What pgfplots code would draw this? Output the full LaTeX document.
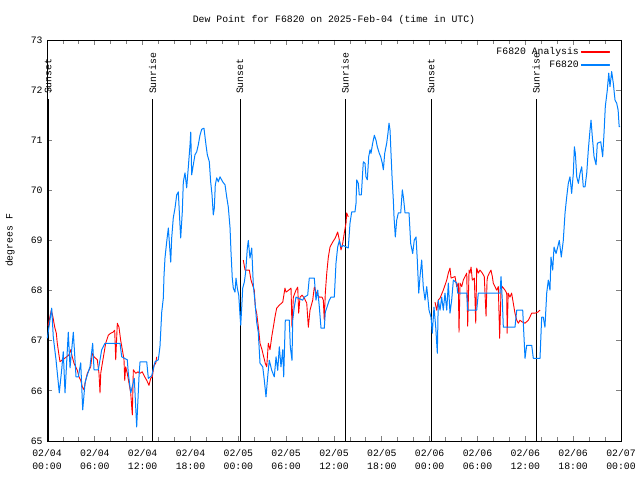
\documentclass[border=0pt]{standalone}
\usepackage{pgfplots}
\pgfplotsset{compat=1.18}
\usepackage{pgfplotstable}
\usepackage{fontspec}
\setmainfont{Liberation Mono}
\setmonofont{Liberation Mono}
\definecolor{obsblue}{RGB}{0,128,255}
\definecolor{anared}{RGB}{255,0,0}

\pgfplotstableread{
h v
0.04 67.05
0.59 67.65
0.79 67.07
1.13 66.62
1.54 65.96
1.84 66.42
2.04 66.78
2.26 65.96
2.67 67.17
2.89 66.46
3.30 67.17
3.64 66.28
3.93 66.28
4.23 66.56
4.48 65.62
4.77 66.16
4.98 66.28
5.39 66.48
5.73 66.95
5.90 66.42
6.44 66.42
6.86 66.82
7.28 66.95
9.16 66.95
9.37 66.68
10.07 66.62
10.20 66.35
10.50 65.96
10.95 66.25
11.25 65.28
11.54 66.28
11.67 66.58
12.51 66.58
12.71 66.25
13.13 66.30
13.55 66.58
13.96 66.62
14.17 66.88
14.39 67.57
14.59 67.85
14.68 68.31
14.80 68.65
15.01 68.97
15.22 69.25
15.52 68.57
15.64 69.05
15.84 69.45
16.06 69.65
16.27 69.91
16.47 69.97
16.68 69.31
16.77 69.05
16.97 69.57
17.10 70.17
17.31 70.35
17.52 70.05
17.72 70.45
17.94 70.91
18.03 71.16
18.15 70.31
18.35 70.51
18.56 70.71
18.78 70.77
18.98 70.91
19.19 71.10
19.41 71.22
19.69 71.24
19.94 70.91
20.11 70.71
20.36 70.57
20.53 70.17
20.70 69.91
20.86 69.51
20.99 69.65
21.11 70.11
21.29 70.25
21.49 70.17
21.70 70.27
22.04 70.17
22.33 70.11
22.54 69.87
22.74 69.67
22.96 69.25
23.08 68.77
23.24 68.25
23.37 68.05
23.58 67.97
23.71 68.25
23.87 68.05
24.05 67.91
24.21 67.51
24.30 67.31
24.42 67.65
24.55 68.05
24.75 68.17
24.92 68.37
25.13 68.85
25.25 69.00
25.46 68.65
25.68 68.85
25.88 68.11
26.09 67.77
26.30 67.37
26.50 67.17
26.72 66.55
27.06 66.48
27.26 66.21
27.47 65.88
27.68 66.28
27.88 66.61
28.19 66.41
28.51 66.28
28.73 66.68
28.94 66.41
29.14 66.88
29.35 66.48
29.57 66.82
29.69 66.28
29.89 67.41
30.39 67.41
30.52 66.88
30.73 66.61
30.82 67.41
31.02 67.67
31.23 67.87
32.07 67.81
32.28 67.87
32.70 67.91
32.90 68.25
33.53 68.25
33.74 67.81
33.96 68.01
34.16 67.67
34.37 67.25
34.78 67.25
34.91 67.57
35.41 67.81
35.62 67.87
36.04 67.87
36.25 68.55
36.46 68.87
36.67 69.00
36.88 68.87
37.17 68.90
37.79 68.85
38.01 69.35
38.22 69.57
38.63 69.57
38.76 69.74
38.85 70.21
39.05 70.14
39.17 69.91
39.43 69.91
39.60 70.37
39.68 70.57
39.89 70.54
40.01 70.27
40.18 70.21
40.35 70.67
40.52 70.81
40.64 70.74
40.85 70.94
41.06 71.10
41.27 71.00
41.43 70.87
41.68 70.74
41.86 70.67
42.06 70.54
42.19 70.41
42.36 70.74
42.61 70.94
42.77 71.14
42.90 71.34
43.03 71.20
43.15 70.74
43.28 70.27
43.44 69.81
43.53 69.47
43.69 69.07
43.87 69.41
44.07 69.55
44.37 69.55
44.57 70.01
44.70 69.87
44.91 69.55
45.41 69.55
45.62 68.94
45.87 68.74
46.07 69.01
46.29 69.07
46.45 68.61
46.63 67.95
46.79 68.28
47.00 68.61
47.20 68.07
47.42 67.81
47.63 68.08
47.92 67.61
48.17 67.47
48.33 67.15
48.54 67.67
48.76 67.27
48.96 66.75
49.08 67.81
49.30 67.61
49.51 67.87
49.71 67.61
49.92 67.95
50.14 67.61
50.34 68.15
50.55 67.55
50.76 67.81
50.97 68.21
51.39 68.15
51.52 67.95
52.65 67.95
52.77 67.61
53.90 67.61
54.10 67.95
56.82 67.95
56.95 68.28
57.11 67.81
57.24 67.27
58.70 67.27
58.92 67.61
59.67 67.61
59.83 67.08
59.96 66.65
60.17 66.91
60.80 66.91
61.00 66.65
61.84 66.65
62.05 67.47
62.25 67.47
62.46 67.27
62.68 67.95
62.88 68.21
63.09 68.01
63.22 68.67
63.43 68.41
63.60 68.87
63.85 68.74
64.06 68.87
64.26 69.00
64.51 68.67
64.76 69.00
64.98 69.55
65.19 69.87
65.39 70.14
65.60 70.27
65.81 69.94
66.02 70.34
66.15 70.87
66.27 70.74
66.45 70.27
66.65 70.14
66.86 70.34
67.07 70.47
67.27 70.07
67.49 70.07
67.70 70.34
67.90 70.81
68.11 71.20
68.24 71.40
68.40 71.07
68.62 70.67
68.87 70.51
69.03 70.94
69.46 70.97
69.70 70.67
69.87 71.14
70.03 71.67
70.28 72.00
70.46 72.34
70.62 72.07
70.83 72.37
71.03 72.14
71.25 71.80
71.46 71.74
71.64 71.60
71.77 71.27
71.90 71.27
}\obsdata

\pgfplotstableread{
h v
0.13 67.30
0.54 67.61
0.75 67.47
0.97 67.27
1.17 67.15
1.29 66.95
1.47 66.75
1.63 66.58
1.92 66.62
2.22 66.65
2.47 66.68
2.76 66.72
2.97 66.82
3.17 66.68
3.39 66.55
3.60 66.48
3.80 66.41
4.01 66.28
4.23 66.21
4.43 66.08
4.64 66.02
4.85 66.21
5.06 66.35
5.48 66.48
5.68 66.75
5.90 66.68
6.31 66.62
6.52 66.35
6.65 65.96
6.74 66.35
6.94 66.55
7.15 66.75
7.36 66.95
7.69 67.11
7.99 67.15
8.28 67.17
8.49 67.21
8.62 66.62
8.82 67.35
9.03 67.27
9.24 67.01
9.45 66.82
9.66 66.62
9.75 66.21
9.87 66.48
10.07 66.35
10.29 66.15
10.50 65.96
10.70 65.52
10.83 66.42
11.13 66.35
11.41 66.38
11.67 66.35
11.95 66.38
12.26 66.28
12.51 66.21
12.79 66.11
13.01 66.25
13.21 66.28
13.42 66.51
13.64 66.55
13.76 66.68
}\anaA

\pgfplotstableread{
h v
24.62 68.61
24.84 68.41
25.38 68.41
25.59 68.21
26.00 68.01
26.13 67.67
26.30 67.55
26.56 67.21
26.72 66.95
26.97 66.82
27.18 66.68
27.38 66.55
27.56 66.48
27.76 66.95
27.97 66.82
28.19 67.08
28.39 67.27
28.60 67.48
28.81 67.65
29.14 67.71
29.57 67.77
29.85 68.05
29.98 67.97
30.32 68.01
30.61 68.05
30.73 67.27
30.90 67.87
31.23 68.01
31.45 68.07
31.57 67.55
31.74 67.87
31.99 67.91
32.28 67.85
32.58 67.75
32.78 67.27
32.99 67.61
33.33 67.81
33.53 68.07
33.74 67.97
33.96 67.91
34.16 67.87
34.50 67.87
34.66 67.81
34.78 67.41
34.91 67.95
35.09 68.35
35.29 68.67
35.50 68.87
35.84 68.97
36.16 69.05
36.46 69.17
36.67 69.01
36.88 68.81
37.09 68.94
37.29 69.15
37.51 69.35
37.59 69.55
37.79 69.47
}\anaB

\pgfplotstableread{
h v
48.67 67.77
48.88 67.61
49.08 67.81
49.30 67.85
49.71 68.01
50.14 68.21
50.34 68.35
50.55 68.45
50.68 68.25
51.18 68.28
51.39 68.08
51.59 68.15
51.68 67.17
51.81 68.15
52.02 68.08
52.22 68.21
52.43 68.28
52.65 68.35
52.77 67.29
52.94 68.41
53.06 68.35
53.19 68.47
53.35 68.21
53.60 68.25
53.78 67.35
53.90 68.45
54.10 68.35
54.31 68.41
54.60 68.35
54.85 68.28
55.07 67.49
55.20 68.21
55.28 68.28
55.48 68.35
55.69 68.41
55.86 68.28
55.98 68.15
56.19 68.08
56.40 68.01
56.61 68.08
56.78 67.05
56.95 68.01
57.11 68.08
57.45 68.01
57.66 67.95
57.72 67.15
57.85 67.95
58.07 67.87
58.28 67.95
58.49 67.75
58.70 67.55
58.92 67.41
59.12 67.35
59.33 67.41
59.54 67.38
59.96 67.35
60.17 67.38
60.38 67.41
60.59 67.48
60.80 67.55
61.21 67.55
61.55 67.57
61.84 67.61
}\anaC

\begin{document}
\fontsize{9.8bp}{12bp}\selectfont
\begin{tikzpicture}[x=1bp,y=1bp]
\path[use as bounding box] (0,0) rectangle (640,480);
\begin{axis}[
  at={(47bp,39bp)}, anchor=south west,
  scale only axis, width=574bp, height=401bp,
  xmin=0, xmax=72, ymin=65, ymax=73,
  clip=false,
  axis line style={line width=0.9bp},
  xtick={0,6,...,72},
  minor xtick={2,4,8,10,14,16,20,22,26,28,32,34,38,40,44,46,50,52,56,58,62,64,68,70},
  xticklabels={{02/04\\00:00},{02/04\\06:00},{02/04\\12:00},{02/04\\18:00},{02/05\\00:00},{02/05\\06:00},{02/05\\12:00},{02/05\\18:00},{02/06\\00:00},{02/06\\06:00},{02/06\\12:00},{02/06\\18:00},{02/07\\00:00}},
  ytick={65,66,...,73},
  tick align=inside,
  major tick length=5bp, minor tick length=4bp,
  major tick style={line width=0.8bp},
  minor tick style={line width=0.8bp},
  /pgf/number format/assume math mode=true,
  xticklabel style={align=center, font=\fontsize{9.8bp}{13bp}\selectfont, yshift=-5bp},
  yticklabel style={font=\fontsize{9.8bp}{12bp}\selectfont, xshift=-1bp},
  ylabel={degrees F},
  ylabel style={at={(axis description cs:-0.0645,0.5)}, anchor=center, font=\fontsize{9.8bp}{12bp}\selectfont},
  title={Dew Point for F6820 on 2025-Feb-04 (time in UTC)},
  title style={at={(axis description cs:0.5,1)}, anchor=base, yshift=12bp, font=\fontsize{9.8bp}{12bp}\selectfont},
  legend style={draw=none, fill=none, at={(1,1)}, anchor=north east, xshift=-8bp, yshift=-3bp,
    font=\fontsize{9.8bp}{12bp}\selectfont, row sep=1.5bp},
  legend cell align=right,
  legend plot pos=right,
]
% sunrise/sunset markers
\addplot[draw=black, line width=0.9bp, forget plot] coordinates {(0.15,65) (0.15,71.82)};
\addplot[draw=black, line width=0.9bp, forget plot] coordinates {(13.25,65) (13.25,71.82)};
\addplot[draw=black, line width=0.9bp, forget plot] coordinates {(24.21,65) (24.21,71.82)};
\addplot[draw=black, line width=0.9bp, forget plot] coordinates {(37.38,65) (37.38,71.82)};
\addplot[draw=black, line width=0.9bp, forget plot] coordinates {(48.17,65) (48.17,71.82)};
\addplot[draw=black, line width=0.9bp, forget plot] coordinates {(61.34,65) (61.34,71.82)};
\node[rotate=90, anchor=west, inner sep=1bp, font=\fontsize{9.8bp}{12bp}\selectfont] at (axis cs:0.15,71.9) {Sunset};
\node[rotate=90, anchor=west, inner sep=1bp, font=\fontsize{9.8bp}{12bp}\selectfont] at (axis cs:13.25,71.9) {Sunrise};
\node[rotate=90, anchor=west, inner sep=1bp, font=\fontsize{9.8bp}{12bp}\selectfont] at (axis cs:24.21,71.9) {Sunset};
\node[rotate=90, anchor=west, inner sep=1bp, font=\fontsize{9.8bp}{12bp}\selectfont] at (axis cs:37.38,71.9) {Sunrise};
\node[rotate=90, anchor=west, inner sep=1bp, font=\fontsize{9.8bp}{12bp}\selectfont] at (axis cs:48.17,71.9) {Sunset};
\node[rotate=90, anchor=west, inner sep=1bp, font=\fontsize{9.8bp}{12bp}\selectfont] at (axis cs:61.34,71.9) {Sunrise};
% analysis
\addplot[draw=anared, line width=0.9bp, line join=round,
  legend image code/.code={\fill[anared] (0bp,-0.5bp) rectangle (28bp,0.5bp);}] table[x=h, y=v] {\anaA};
\addlegendentry{F6820 Analysis}
\addplot[draw=anared, line width=0.9bp, line join=round, forget plot] table[x=h, y=v] {\anaB};
\addplot[draw=anared, line width=0.9bp, line join=round, forget plot] table[x=h, y=v] {\anaC};
% observations
\addplot[draw=obsblue, line width=1bp, line join=round, sharp plot,
  legend image code/.code={\fill[obsblue] (0bp,-0.5bp) rectangle (28bp,0.5bp);}] table[x=h, y=v] {\obsdata};
\addlegendentry{F6820}
\end{axis}
\end{tikzpicture}
\end{document}
